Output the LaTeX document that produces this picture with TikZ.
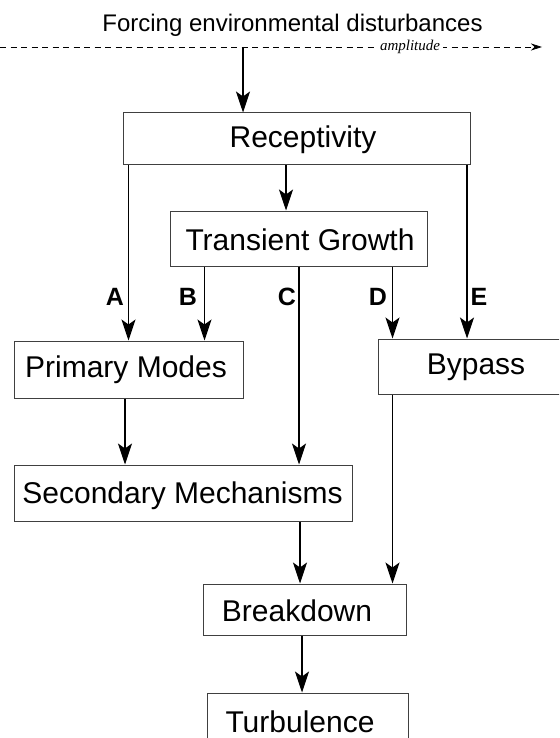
\documentclass[tikz,border=0pt]{standalone}
\usepackage{fontspec}
\setmainfont{Liberation Sans}
\newfontfamily\ampfont{Liberation Serif}
\usetikzlibrary{arrows.meta}
\begin{document}
\begin{tikzpicture}[x=1pt,y=-1pt,
  boxnode/.style={draw=black!75,line width=1pt,inner sep=0pt,rectangle},
  boxtext/.style={font=\fontsize{30}{36}\selectfont,inner sep=0pt},
  lettertext/.style={font=\fontsize{25}{30}\selectfont\bfseries,inner sep=0pt},
  arr/.style={line width=1.1pt,-{Stealth[length=21pt,width=14pt,inset=5pt]}},
  plain/.style={line width=1pt}]
\useasboundingbox (0,0) rectangle (559,738);
\clip (0,0) rectangle (559,738);
% boxes
\node[boxnode,minimum width=347pt,minimum height=52pt] (rec) at (296.5,139) {};
\node[boxnode,minimum width=257pt,minimum height=55pt] (tg) at (298.5,238.5) {};
\node[boxnode,minimum width=229pt,minimum height=57pt] (pm) at (128.5,369.5) {};
\node[boxnode,minimum width=184pt,minimum height=55pt] (byp) at (470,366.5) {};
\node[boxnode,minimum width=338pt,minimum height=56pt] (sec) at (183,493) {};
\node[boxnode,minimum width=203pt,minimum height=51pt] (brk) at (304.5,609.5) {};
\node[boxnode,minimum width=201pt,minimum height=52pt] (tur) at (307.5,719) {};
% texts
\node[boxtext] (trec) at (303,140) {Receptivity};
\node[boxtext] (ttg) at (300,240) {Transient Growth};
\node[boxtext] (tpm) at (126,370) {Primary Modes};
\node[boxtext] (tbyp) at (476,367) {Bypass};
\node[boxtext] (tsec) at (182.5,496) {Secondary Mechanisms};
\node[boxtext] (tbrk) at (297,611) {Breakdown};
\node[boxtext] (ttur) at (300,722) {Turbulence};
% title
\node[font=\fontsize{24}{29}\selectfont,inner sep=0pt,anchor=base] (title) at (292.5,32) {Forcing environmental disturbances};
% dashed amplitude axis
\coordinate (axstart) at (0,47);
\coordinate (axend) at (542,47);
\draw[line width=0.8pt,dash pattern=on 6pt off 4.5pt,-{Stealth[length=11pt,width=7pt,inset=3.5pt]}] (axstart) -- (axend);
\node[fill=white,inner xsep=2.5pt,inner ysep=1pt,font=\ampfont\itshape\fontsize{15}{18}\selectfont] (amp) at (410,47) {amplitude};
% column coordinates
\coordinate (xF) at (243,47);
\coordinate (xRT) at (286,0);
\coordinate (xA) at (128.5,0);
\coordinate (xB) at (204.5,0);
\coordinate (xC) at (299,0);
\coordinate (xD) at (392.5,0);
\coordinate (xE) at (467,0);
\coordinate (xPS) at (125,0);
\coordinate (xSB) at (300,0);
\coordinate (xBT) at (302,0);
% connectors
\draw[arr] (xF) -- (rec.north -| xF);
\draw[arr] (rec.south -| xRT) -- (tg.north -| xRT);
\draw[arr] (rec.south -| xA) -- (pm.north -| xA);
\draw[arr] (tg.south -| xB) -- (pm.north -| xB);
\draw[arr] (tg.south -| xC) -- (sec.north -| xC);
\draw[arr] (tg.south -| xD) -- (byp.north -| xD);
\draw[arr] (rec.south -| xE) -- (byp.north -| xE);
\draw[arr] (pm.south -| xPS) -- (sec.north -| xPS);
\draw[arr] (sec.south -| xSB) -- (brk.north -| xSB);
\draw[arr] (byp.south -| xD) -- (brk.north -| xD);
\draw[arr] (brk.south -| xBT) -- (tur.north -| xBT);
% letters
\node[lettertext] (lA) at (115,297) {A};
\node[lettertext] (lB) at (188,297) {B};
\node[lettertext] (lC) at (287,297) {C};
\node[lettertext] (lD) at (378,297) {D};
\node[lettertext] (lE) at (479,297) {E};
\end{tikzpicture}
\end{document}
